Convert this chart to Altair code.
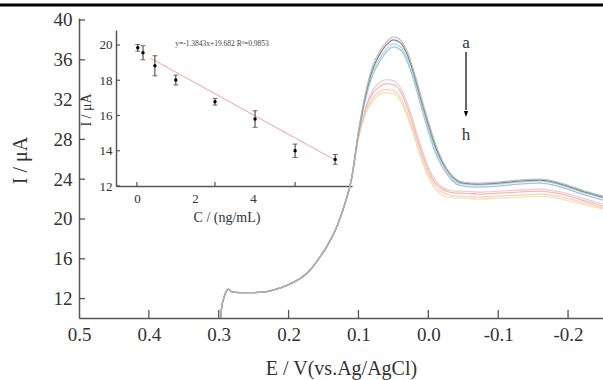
import altair as alt
import pandas as pd

# ---------------- main DPV curves ----------------
rise_E = [0.297, 0.296, 0.293, 0.289, 0.286, 0.282, 0.27, 0.25, 0.236, 0.22, 0.2,
          0.18, 0.17, 0.16, 0.15, 0.14, 0.13, 0.12, 0.11]
rise_I = [10.1, 11.0, 12.0, 12.75, 12.95, 12.7, 12.6, 12.6, 12.65, 12.9, 13.4,
          14.2, 14.8, 15.7, 16.7, 17.9, 19.4, 21.4, 24.0]
peak_E = [0.1, 0.09, 0.08, 0.07, 0.06, 0.05, 0.04, 0.03, 0.02, 0.01, 0.0, -0.01,
          -0.02, -0.03, -0.04, -0.05, -0.07, -0.1, -0.13, -0.16, -0.19, -0.22, -0.25]
curve_a = [28.8, 32.6, 35.3, 36.8, 37.8, 38.3, 38.0, 36.8, 34.7, 32.2, 29.8, 27.6,
           25.9, 24.7, 24.0, 23.7, 23.6, 23.7, 23.9, 24.0, 23.6, 22.9, 22.3]
curve_b = [28.7, 32.4, 35.0, 36.5, 37.5, 38.0, 37.7, 36.5, 34.4, 31.9, 29.5, 27.3,
           25.7, 24.6, 23.9, 23.6, 23.5, 23.6, 23.8, 23.9, 23.5, 22.8, 22.2]
curve_c = [28.6, 32.2, 34.7, 36.1, 37.1, 37.6, 37.3, 36.1, 34.0, 31.5, 29.1, 27.0,
           25.4, 24.4, 23.7, 23.5, 23.4, 23.5, 23.7, 23.8, 23.4, 22.7, 22.1]
curve_d = [28.5, 32.0, 34.4, 35.8, 36.8, 37.3, 37.0, 35.8, 33.7, 31.2, 28.8, 26.7,
           25.2, 24.2, 23.5, 23.3, 23.2, 23.3, 23.5, 23.6, 23.2, 22.5, 21.9]
curve_e = [28.4, 31.2, 32.9, 33.7, 34.0, 33.9, 33.2, 31.6, 29.4, 27.2, 25.2, 23.9,
           23.2, 22.9, 22.8, 22.8, 22.7, 22.8, 22.9, 23.0, 22.7, 22.1, 21.5]
curve_f = [28.3, 31.0, 32.6, 33.3, 33.6, 33.5, 32.8, 31.2, 29.0, 26.8, 24.9, 23.6,
           23.0, 22.7, 22.6, 22.6, 22.5, 22.6, 22.7, 22.8, 22.5, 21.9, 21.3]
curve_g = [28.2, 30.7, 32.1, 32.8, 33.0, 32.9, 32.2, 30.6, 28.5, 26.3, 24.5, 23.3,
           22.7, 22.4, 22.3, 22.3, 22.2, 22.3, 22.4, 22.5, 22.2, 21.7, 21.1]
curve_h = [28.1, 30.5, 31.8, 32.5, 32.7, 32.6, 31.9, 30.3, 28.2, 26.0, 24.2, 23.0,
           22.4, 22.2, 22.1, 22.1, 22.0, 22.1, 22.2, 22.3, 22.0, 21.5, 21.0]

curve_names = ["h", "g", "f", "e", "d", "c", "b", "a"]
curve_vals = [curve_h, curve_g, curve_f, curve_e, curve_d, curve_c, curve_b, curve_a]
curve_colors = ["#eee0b4", "#f6cfae", "#f3b0b4", "#ecc6cd",
                "#9dbbe2", "#9fdbe0", "#787878", "#b8b8b8"]

x_tick_vals = [0.5, 0.4, 0.3, 0.2, 0.1, 0.0, -0.1, -0.2]
x_inner_ticks = [0.4, 0.3, 0.2, 0.1, 0.0, -0.1, -0.2]
y_tick_vals = [12, 16, 20, 24, 28, 32, 36, 40]

# ---------------- inset calibration ----------------
conc = [0.03, 0.21, 0.62, 1.34, 2.69, 4.07, 5.45, 6.83]
current = [19.84, 19.56, 18.82, 18.01, 16.78, 15.80, 14.00, 13.51]
err = [0.19, 0.40, 0.57, 0.28, 0.19, 0.47, 0.38, 0.28]
fit_x = [0.48, 6.8]
fit_y = [19.24, 13.5]
inset_x_labels = [0, 2, 4]
inset_x_ticks = [0, 2.69, 5.45]
inset_y_ticks = [12, 14, 16, 18, 20]

SERIF = "Liberation Serif"
TXT = "#333333"
AX = "#555555"

rows = []
for name, vals in zip(curve_names, curve_vals):
    for e, i in zip(rise_E + peak_E, rise_I + vals):
        rows.append({"curve": name, "E": e, "I": i})
df = pd.DataFrame(rows)

W, H = 524, 300

xs = alt.Scale(domain=[-0.25, 0.5], reverse=True, nice=False, zero=False)
ys = alt.Scale(domain=[10.05, 40.2], nice=False, zero=False)

x_axis = alt.Axis(values=x_tick_vals, tickSize=0, grid=False, labelFlush=False,
                  labelOverlap=False,
                  labelExpr="datum.value < -0.001 ? '-' + format(-datum.value, '.1f') : format(abs(datum.value), '.1f')",
                  labelFont=SERIF, labelFontSize=19, labelColor=TXT, labelPadding=7,
                  domainColor=AX, domainWidth=1.5,
                  title="E / V(vs.Ag/AgCl)", titleFont=SERIF, titleFontSize=20,
                  titleFontWeight="normal", titleColor=TXT, titleX=262, titleY=50,
                  titleBaseline="middle", titleAlign="center")
y_axis = alt.Axis(values=y_tick_vals, tickSize=0, grid=False, labelOverlap=False,
                  labelFont=SERIF, labelFontSize=19, labelColor=TXT, labelPadding=7,
                  domainColor=AX, domainWidth=1.5,
                  title="I / μA", titleFont=SERIF, titleFontSize=20,
                  titleFontWeight="normal", titleColor=TXT, titleAngle=-90,
                  titleX=-59, titleY=142, titleBaseline="middle", titleAlign="center")

lines = alt.Chart(df).mark_line(strokeWidth=1.3, interpolate="monotone", clip=True,
                                opacity=0.9).encode(
    x=alt.X("E:Q", scale=xs, axis=x_axis),
    y=alt.Y("I:Q", scale=ys, axis=y_axis),
    color=alt.Color("curve:N", scale=alt.Scale(domain=curve_names, range=curve_colors), legend=None),
    detail="curve:N",
)

xt = alt.Chart(pd.DataFrame({"v": x_inner_ticks})).mark_rule(color=AX, strokeWidth=1.3).encode(
    x=alt.X("v:Q", scale=xs), y=alt.value(H - 8), y2=alt.value(H))
yt = alt.Chart(pd.DataFrame({"v": y_tick_vals})).mark_rule(color=AX, strokeWidth=1.3).encode(
    y=alt.Y("v:Q", scale=ys), x=alt.value(0), x2=alt.value(6))

dummy = pd.DataFrame({"k": [0]})
top_bar = alt.Chart(dummy).mark_rule(color="black", strokeWidth=3).encode(
    x=alt.value(-79), x2=alt.value(W), y=alt.value(-13))
arrow = alt.Chart(dummy).mark_rule(color="black", strokeWidth=1.2).encode(
    x=alt.value(387), y=alt.value(34), y2=alt.value(92))
arrow_head = alt.Chart(dummy).mark_point(
    shape="M-0.35,-0.5L0.35,-0.5L0,0.5Z", filled=True, color="black", size=144, opacity=1
).encode(x=alt.value(387), y=alt.value(96))
lab_a = alt.Chart(dummy).mark_text(text="a", font=SERIF, fontSize=17, color=TXT).encode(
    x=alt.value(387), y=alt.value(25))
lab_h = alt.Chart(dummy).mark_text(text="h", font=SERIF, fontSize=17, color=TXT).encode(
    x=alt.value(387), y=alt.value(117))

main = alt.layer(lines, xt, yt, top_bar, arrow, arrow_head, lab_a, lab_h)

# ---------------- inset ----------------
idf = pd.DataFrame({"c": conc, "i": current, "e": err})
ixs = alt.Scale(domain=[-0.72, 7.41], range=[37, 273], nice=False, zero=False)
iys = alt.Scale(domain=[12, 20.85], range=[168, 12], nice=False, zero=False)

ix_axis = alt.Axis(orient="bottom", offset=-132, values=inset_x_labels, tickSize=0,
                   grid=False, labelFlush=False, labelOverlap=False, title=None,
                   format="d",
                   labelFont=SERIF, labelFontSize=13, labelColor=TXT, labelPadding=6,
                   domainColor=AX, domainWidth=1.5)
iy_axis = alt.Axis(orient="left", offset=-37, values=inset_y_ticks, tickSize=0,
                   grid=False, labelOverlap=False, title=None, format="d",
                   labelFont=SERIF, labelFontSize=13, labelColor=TXT, labelPadding=4,
                   domainColor=AX, domainWidth=1.5)

base = alt.Chart(idf).transform_calculate(lo="datum.i - datum.e", hi="datum.i + datum.e")
pts = base.mark_point(filled=True, color="black", size=12, opacity=1).encode(
    x=alt.X("c:Q", scale=ixs, axis=ix_axis), y=alt.Y("i:Q", scale=iys, axis=iy_axis))
bars = base.mark_rule(color="#333", strokeWidth=1).encode(
    x=alt.X("c:Q", scale=ixs), y=alt.Y("lo:Q", scale=iys), y2="hi:Q")
cap_lo = base.mark_tick(orient="horizontal", size=5, thickness=1, color="#333").encode(
    x=alt.X("c:Q", scale=ixs), y=alt.Y("lo:Q", scale=iys))
cap_hi = base.mark_tick(orient="horizontal", size=5, thickness=1, color="#333").encode(
    x=alt.X("c:Q", scale=ixs), y=alt.Y("hi:Q", scale=iys))
fit = alt.Chart(pd.DataFrame({"c": fit_x, "i": fit_y})).mark_line(
    color="#f2a0a0", strokeWidth=1).encode(
    x=alt.X("c:Q", scale=ixs), y=alt.Y("i:Q", scale=iys))
ixt = alt.Chart(pd.DataFrame({"v": inset_x_ticks})).mark_rule(color=AX, strokeWidth=1.2).encode(
    x=alt.X("v:Q", scale=ixs), y=alt.value(164), y2=alt.value(168))
iyt = alt.Chart(pd.DataFrame({"v": inset_y_ticks})).mark_rule(color=AX, strokeWidth=1.2).encode(
    y=alt.Y("v:Q", scale=iys), x=alt.value(37), x2=alt.value(41))
eq = alt.Chart(dummy).mark_text(text="y=-1.3843x+19.682 R²=0.9853", font=SERIF,
                                fontSize=7.5, color="#444").encode(
    x=alt.value(143), y=alt.value(26))
ixtitle = alt.Chart(dummy).mark_text(text="C / (ng/mL)", font=SERIF, fontSize=14,
                                     color=TXT).encode(x=alt.value(148), y=alt.value(200))
iytitle = alt.Chart(dummy).mark_text(text="I / μA", font=SERIF, fontSize=14, angle=270,
                                     color=TXT).encode(x=alt.value(8), y=alt.value(92))

inset = alt.layer(fit, bars, cap_lo, cap_hi, pts, ixt, iyt, eq, ixtitle, iytitle)

chart = alt.layer(main, inset).resolve_scale(x="independent", y="independent").properties(
    width=W, height=H,
    padding={"left": 79, "top": 18, "right": 0, "bottom": 62},
    autosize="none",
    background="white",
).configure_view(stroke=None)

chart.save("out.html", embed_options={"renderer": "svg", "actions": False})
